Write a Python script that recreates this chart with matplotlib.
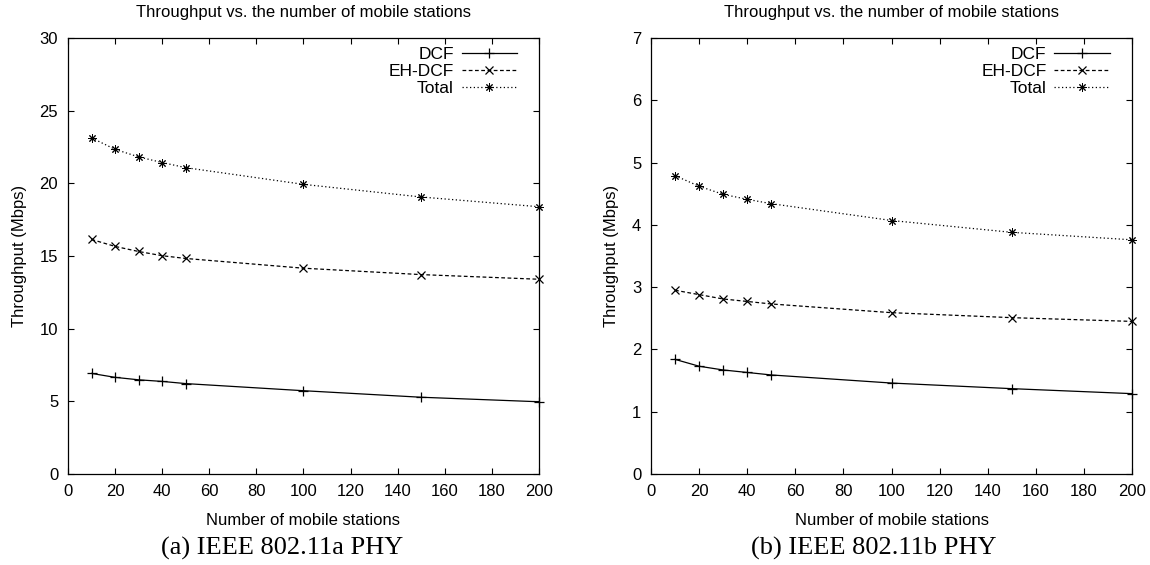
import matplotlib
matplotlib.use('Agg')
import matplotlib.pyplot as plt

# ---------- DATA ----------
stations = [10, 20, 30, 40, 50, 100, 150, 200]

# (a) IEEE 802.11a PHY
dcf_a = [6.92, 6.65, 6.48, 6.37, 6.22, 5.73, 5.28, 4.97]
ehdcf_a = [16.14, 15.66, 15.31, 15.02, 14.83, 14.16, 13.72, 13.40]
total_a = [23.13, 22.34, 21.82, 21.43, 21.08, 19.93, 19.06, 18.39]

# (b) IEEE 802.11b PHY
dcf_b = [1.84, 1.73, 1.67, 1.63, 1.59, 1.46, 1.37, 1.29]
ehdcf_b = [2.95, 2.88, 2.81, 2.77, 2.73, 2.59, 2.51, 2.45]
total_b = [4.79, 4.62, 4.49, 4.41, 4.34, 4.07, 3.88, 3.76]

xticks = list(range(0, 201, 20))
yticks_a = list(range(0, 31, 5))
yticks_b = list(range(0, 8, 1))

title = "Throughput vs. the number of mobile stations"
captions = ["(a) IEEE 802.11a PHY", "(b) IEEE 802.11b PHY"]

plt.rcParams['font.family'] = ['Liberation Sans', 'DejaVu Sans']
plt.rcParams['font.size'] = 12

fig = plt.figure(figsize=(11.5, 5.65), dpi=100)
ax_a = fig.add_axes([0.0591, 0.1611, 0.4096, 0.7716])
ax_b = fig.add_axes([0.5661, 0.1611, 0.4183, 0.7716])

asterisk = (8, 2, 0)

panels = [
    (ax_a, dcf_a, ehdcf_a, total_a, yticks_a, 30),
    (ax_b, dcf_b, ehdcf_b, total_b, yticks_b, 7),
]

for ax, dcf, eh, tot, yt, ymax in panels:
    ax.plot(stations, dcf, color='black', lw=0.9, ls='-', marker='+',
            ms=7, mew=0.9, label='DCF', clip_on=False)
    ax.plot(stations, eh, color='black', lw=0.9, ls=(0, (3, 2)), marker='x',
            ms=6, mew=0.9, label='EH-DCF', clip_on=False)
    ax.plot(stations, tot, color='black', lw=0.9, ls=(0, (1, 2)), marker=asterisk,
            ms=6, mew=0.7, label='Total', clip_on=False)
    ax.set_xlim(0, 200)
    ax.set_ylim(0, ymax)
    ax.set_xticks(xticks)
    ax.set_yticks(yt)
    ax.tick_params(direction='in', length=4.5, width=0.8, top=True, right=True,
                   labelsize=12, pad=7)
    for s in ax.spines.values():
        s.set_linewidth(0.9)
    ax.set_title(title, fontsize=12, pad=15)
    ax.set_xlabel("Number of mobile stations", fontsize=12, labelpad=10)
    ax.set_ylabel("Throughput (Mbps)", fontsize=12, labelpad=9)
    ax.legend(loc='upper right', frameon=False, markerfirst=False,
              handlelength=3.2, handletextpad=0.45, labelspacing=0.12,
              borderaxespad=0.1, bbox_to_anchor=(0.972, 1.0), fontsize=12.5)

fig.text(282 / 1150, 1 - 548 / 565, captions[0], ha='center', va='center',
         family='Liberation Serif', fontsize=19)
fig.text(874 / 1150, 1 - 548 / 565, captions[1], ha='center', va='center',
         family='Liberation Serif', fontsize=19)

plt.savefig('out.png', dpi=100)
